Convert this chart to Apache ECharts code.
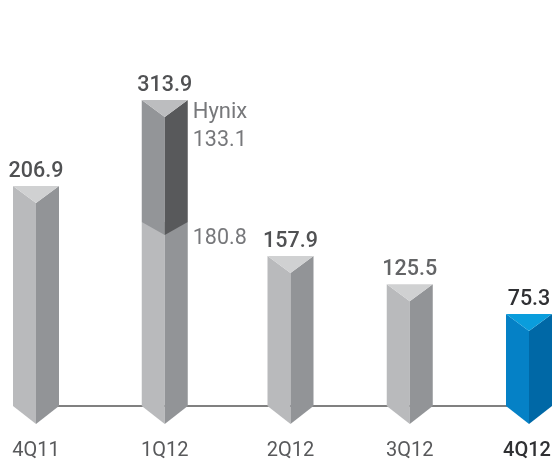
<!DOCTYPE html>
<html>
<head>
<meta charset="utf-8">
<style>html,body{margin:0;padding:0;background:#fff}#c{width:553px;height:465px}</style>
<script src="https://cdn.jsdelivr.net/npm/echarts@6/dist/echarts.min.js"></script>
</head>
<body>
<div id="c"></div>
<script>
// Printed in the picture
const categories = ['4Q11', '1Q12', '2Q12', '3Q12', '4Q12'];
const totalLabels = ['206.9', '313.9', '157.9', '125.5', '75.3'];
const baseLabel = '180.8';
const hynixName = 'Hynix';
const hynixLabel = '133.1';
// Bar heights as actually drawn in the picture (the artwork is not strictly to scale)
const drawnTotals = [225.6, 313.9, 153.8, 125, 94.4];
const drawnBase = [225.6, 188.7, 153.8, 125, 94.4];
const drawnHynixTop = [null, 313.9, null, null, null];

// Layout and styling only
const slotNudge = [0, 5.5, 8, 4, 0];
const halfWidth = 23, cap = 17, foot = 18, hynixFoot = 13;
const GREY = { l: '#b9babc', r: '#929497', t: '#d0d1d2' };
const DARK = { l: '#939598', r: '#58595b', t: '#bcbdbf' };
const BLUE = { l: '#0581c6', r: '#0068a6', t: '#0a9ddc' };
const FONT = 'Roboto';

function poly(points, fill) {
  return { type: 'polygon', shape: { points }, style: { fill } };
}
function txt(x, y, text, fill, size, weight, align) {
  return { type: 'text', silent: true, style: {
    x, y, text, fill, align: align || 'center', verticalAlign: 'middle',
    font: (weight || 400) + ' ' + size + 'px ' + FONT } };
}
function prism(cx, top, low, bottomDepth, pal, withCap) {
  const w = halfWidth, kids = [];
  const tv = withCap ? top + cap : top;
  kids.push(poly([[cx - w, top], [cx, tv], [cx, low + bottomDepth], [cx - w, low]], pal.l));
  kids.push(poly([[cx + w, top], [cx, tv], [cx, low + bottomDepth], [cx + w, low]], pal.r));
  if (withCap) kids.push(poly([[cx - w, top], [cx + w, top], [cx, top + cap]], pal.t));
  return kids;
}

function renderBase(params, api) {
  const i = api.value(0);
  const cx = api.coord([i, 0])[0] + slotNudge[i];
  const y0 = api.coord([i, 0])[1];
  const top = api.coord([i, api.value(1)])[1];
  const stacked = drawnHynixTop[i] != null;
  const pal = i === categories.length - 1 ? BLUE : GREY;
  const kids = prism(cx, top, y0, foot, pal, !stacked);
  const totalTop = api.coord([i, drawnTotals[i]])[1];
  const last = i === categories.length - 1;
  const col = last ? '#2f3033' : (i === 3 ? '#636466' : '#505153');
  kids.push(txt(cx, totalTop - 14.5, totalLabels[i], col, 21.5, 500));
  if (stacked) kids.push(txt(cx + halfWidth + 5, top + 17, baseLabel, '#77787b', 21.5, 400, 'left'));
  return { type: 'group', children: kids };
}
function renderHynix(params, api) {
  const i = api.value(0);
  const cx = api.coord([i, 0])[0] + slotNudge[i];
  const top = api.coord([i, api.value(2)])[1];
  const low = api.coord([i, api.value(1)])[1];
  const kids = prism(cx, top, low, hynixFoot, DARK, true);
  kids.push(txt(cx + halfWidth + 5, top + 13, hynixName, '#77787b', 22, 400, 'left'));
  kids.push(txt(cx + halfWidth + 5, top + 41, hynixLabel, '#77787b', 21.5, 400, 'left'));
  return { type: 'group', children: kids };
}

const chart = echarts.init(document.getElementById('c'), null, { renderer: 'canvas' });
chart.setOption({
  animation: false,
  backgroundColor: '#fff',
  grid: { left: 36, right: 24, top: 16, bottom: 59, outerBoundsMode: 'none' },
  xAxis: {
    type: 'category', boundaryGap: false,
    data: categories.map((c, i) => ({
      value: c,
      textStyle: {
        padding: i === categories.length - 1 ? [0, 4, 0, 0] : [0, 0, 0, slotNudge[i] * 2],
        color: i === categories.length - 1 ? '#2f3033' : '#58595b',
        fontWeight: i === categories.length - 1 ? 500 : 400
      }
    })),
    axisLine: { lineStyle: { color: '#808080', width: 2 } },
    axisTick: { show: false },
    axisLabel: { margin: 35, fontFamily: FONT, fontSize: 20, interval: 0, hideOverlap: false, showMinLabel: true, showMaxLabel: true, alignMinLabel: 'center', alignMaxLabel: 'center' }
  },
  yAxis: { type: 'value', min: 0, max: 400, show: false },
  series: [
    { type: 'custom', name: 'Total', renderItem: renderBase, clip: false, z: 3,
      encode: { x: 0, y: 1 },
      data: drawnBase.map((v, i) => [i, v]) },
    { type: 'custom', name: 'Hynix', renderItem: renderHynix, clip: false, z: 4,
      encode: { x: 0, y: [1, 2] },
      data: drawnHynixTop.map((v, i) => v == null ? null : [i, drawnBase[i], v]).filter(Boolean) }
  ]
});
</script>
</body>
</html>
